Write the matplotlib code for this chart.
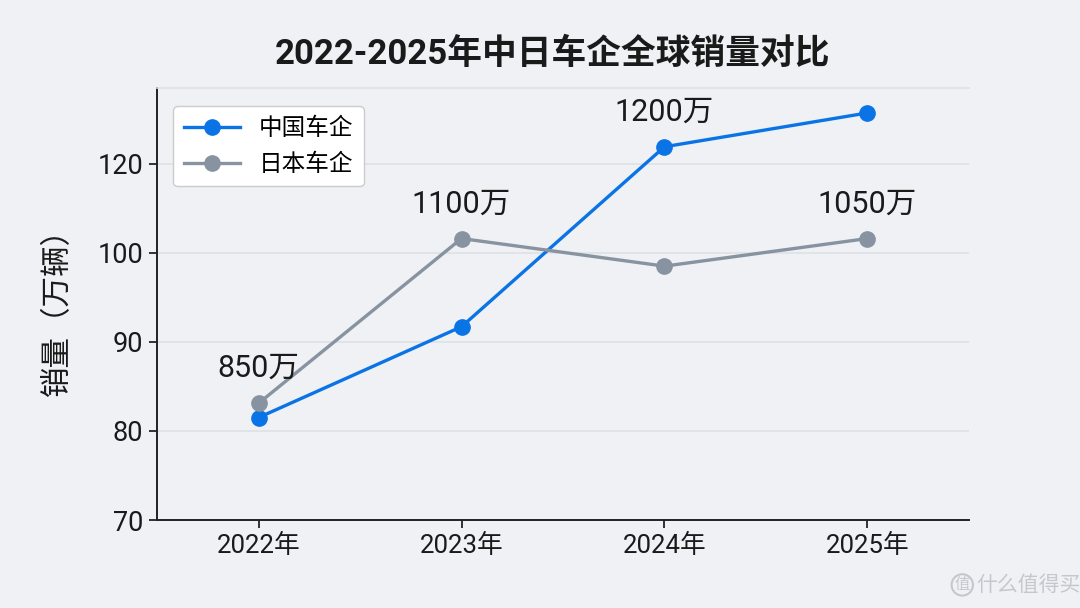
import matplotlib.pyplot as plt

plt.rcParams['font.family'] = ['Roboto', 'Noto Sans CJK SC', 'DejaVu Sans']

years = ["2022年", "2023年", "2024年", "2025年"]
china = [81.5, 91.7, 111.9, 115.7]
japan = [83.1, 101.6, 98.5, 101.6]
ytick_pos = [70, 80, 90, 100, 110]
ytick_labels = ["70", "80", "90", "100", "120"]

# labels placed above points (index, series, text)
notes = [(0, japan, "850万"), (1, japan, "1100万"), (2, china, "1200万"), (3, japan, "1050万")]

bg = "#eff1f4"
blue = "#0a74e6"
gray = "#8793a1"

fig = plt.figure(figsize=(10.8, 6.08), dpi=100, facecolor=bg)
ax = fig.add_axes([0.1454, 0.1447, 0.7518, 0.7106])
ax.set_facecolor(bg)

x = range(len(years))
ax.plot(x, china, color=blue, lw=2.4, marker="o", ms=11, label="中国车企", zorder=3)
ax.plot(x, japan, color=gray, lw=2.4, marker="o", ms=11, label="日本车企", zorder=3)

for i, series, txt in notes:
    ax.annotate(txt, (i, series[i]), xytext=(0, 25), textcoords="offset points",
                ha="center", va="center", fontsize=22, color="#1a1a1a")

ax.set_xlim(-0.5, 3.5)
ax.set_ylim(70, 118.5)
ax.set_xticks(list(x))
ax.set_xticklabels(years, fontsize=18.5)
ax.set_yticks(ytick_pos)
ax.set_yticklabels(ytick_labels, fontsize=19.5)
ax.tick_params(axis="both", length=6, width=1.3, color="#222222", labelcolor="#1a1a1a", pad=4)

ax.grid(axis="y", color="#dde1e6", lw=1.2)
ax.set_axisbelow(True)
for s in ["left", "bottom"]:
    ax.spines[s].set_color("#222222")
    ax.spines[s].set_linewidth(1.4)
ax.spines["right"].set_visible(False)
ax.spines["top"].set_color("#dde1e6")
ax.spines["top"].set_linewidth(1.2)

ax.set_ylabel("销量（万辆）", fontsize=22, color="#1a1a1a")
ax.yaxis.set_label_coords(-0.105, 0.5)

leg = ax.legend(loc="upper left", fontsize=17, frameon=True, fancybox=True,
                edgecolor="#cccccc", facecolor="white", framealpha=1,
                borderpad=0.45, labelspacing=0.55, handlelength=2.4, handletextpad=0.8,
                bbox_to_anchor=(0.005, 0.985))

fig.text(0.512, 0.91, "2022-2025年中日车企全球销量对比", ha="center", va="center",
         fontsize=25, fontweight="bold", color="#1a1a1a")

# watermark
fig.text(0.891, 0.038, "值", ha="center", va="center", fontsize=11, color="#c4c8ce",
         bbox=dict(boxstyle="circle,pad=0.2", facecolor="none", edgecolor="#c4c8ce", lw=1.5))
fig.text(0.952, 0.038, "什么值得买", ha="center", va="center", fontsize=15, color="#c4c8ce")

fig.savefig("out.png", dpi=100, facecolor=bg)
